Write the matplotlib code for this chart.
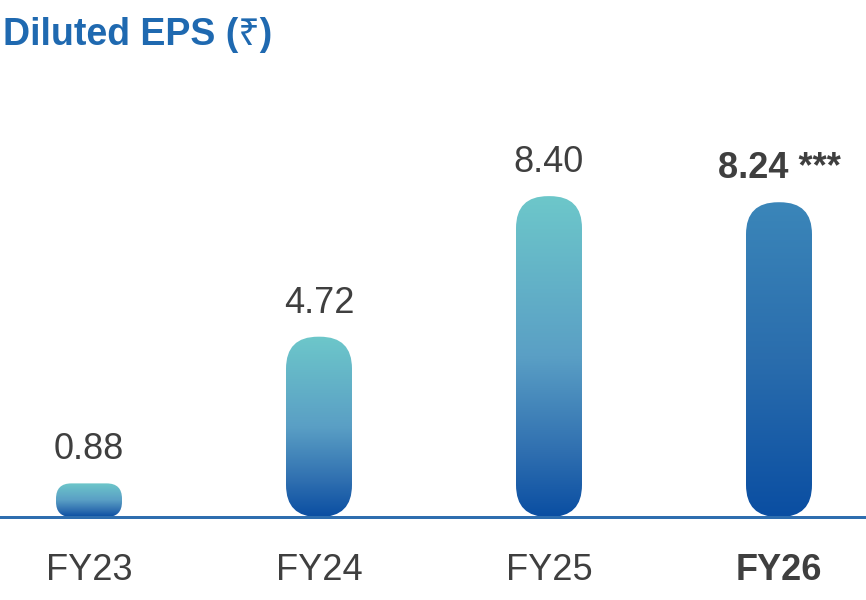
import matplotlib
matplotlib.use("Agg")
import matplotlib.pyplot as plt
import numpy as np
from matplotlib.patches import FancyBboxPatch
from matplotlib.colors import to_rgb

categories = ["FY23", "FY24", "FY25", "FY26"]
values = [0.88, 4.72, 8.40, 8.24]
value_labels = ["0.88", "4.72", "8.40", "8.24 ***"]
highlight = [False, False, False, True]

plt.rcParams['font.family'] = ['Liberation Sans', 'Noto Sans', 'DejaVu Sans']

W, H, DPI = 866, 600, 100
fig = plt.figure(figsize=(W / DPI, H / DPI), dpi=DPI)

base_px = 517          # baseline y from top
px_per_unit = 38.2     # vertical scale
spacing_px = 230
first_center_px = 89
bar_w_px = 66

ax = fig.add_axes([0, (H - base_px) / H, 1, base_px / H])
x = np.arange(len(categories))
x_left = -first_center_px / spacing_px
x_right = (W - first_center_px) / spacing_px
ax.set_xlim(x_left, x_right)
ax.set_ylim(0, base_px / px_per_unit)

xu_per_px = 1 / spacing_px
yu_per_px = 1 / px_per_unit
aspect = yu_per_px / xu_per_px
bw = bar_w_px * xu_per_px

# gradient stops (position from bottom 0 -> top 1)
normal_stops = [(0.0, "#0a4ea2"), (0.2, "#2f6fb0"), (0.5, "#5a9fc5"), (1.0, "#6dc7ca")]
hl_stops = [(0.0, "#0a4ea2"), (0.5, "#2a6dad"), (1.0, "#3b86b9")]


def make_grad(stops, n=256):
    t = np.linspace(0, 1, n)
    pos = [p for p, _ in stops]
    cols = np.array([to_rgb(c) for _, c in stops])
    out = np.stack([np.interp(t, pos, cols[:, k]) for k in range(3)], axis=1)
    return out[:, None, :]


for xi, v, hl in zip(x, values, highlight):
    h_px = v * px_per_unit
    r_px = min(32, h_px / 2.2)
    patch = FancyBboxPatch((xi - bw / 2, 0), bw, v,
                           boxstyle=f"round,pad=0,rounding_size={r_px * xu_per_px}",
                           mutation_aspect=aspect,
                           facecolor="none", edgecolor="none")
    ax.add_patch(patch)
    img = make_grad(hl_stops if hl else normal_stops)
    im = ax.imshow(img, extent=[xi - bw / 2, xi + bw / 2, 0, v],
                   origin="lower", aspect="auto", zorder=2, interpolation="bilinear")
    im.set_clip_path(patch)

for xi, v, lab, hl in zip(x, values, value_labels, highlight):
    ax.annotate(lab, (xi, v), xytext=(0, 24 * 72 / DPI), textcoords="offset points",
                ha="center", va="baseline", fontsize=26, color="#3f3f3f",
                fontweight="bold" if hl else "normal")

ax.set_xticks(x)
ax.set_xticklabels(categories, fontsize=26, color="#3f3f3f")
for tl, hl in zip(ax.get_xticklabels(), highlight):
    if hl:
        tl.set_fontweight("bold")
ax.tick_params(axis="x", length=0, pad=36 * 72 / DPI)
ax.set_yticks([])
for s in ["top", "left", "right"]:
    ax.spines[s].set_visible(False)
ax.spines["bottom"].set_color("#2f6eaf")
ax.spines["bottom"].set_linewidth(3 * 72 / DPI)
ax.spines["bottom"].set_zorder(5)
ax.set_facecolor("none")

fig.text(3 / W, 1 - 35 / H, "Diluted EPS (₹)", fontsize=27, fontweight="bold",
         color="#1f69b0", ha="left", va="center")

fig.savefig("out.png", dpi=DPI, facecolor="white")
